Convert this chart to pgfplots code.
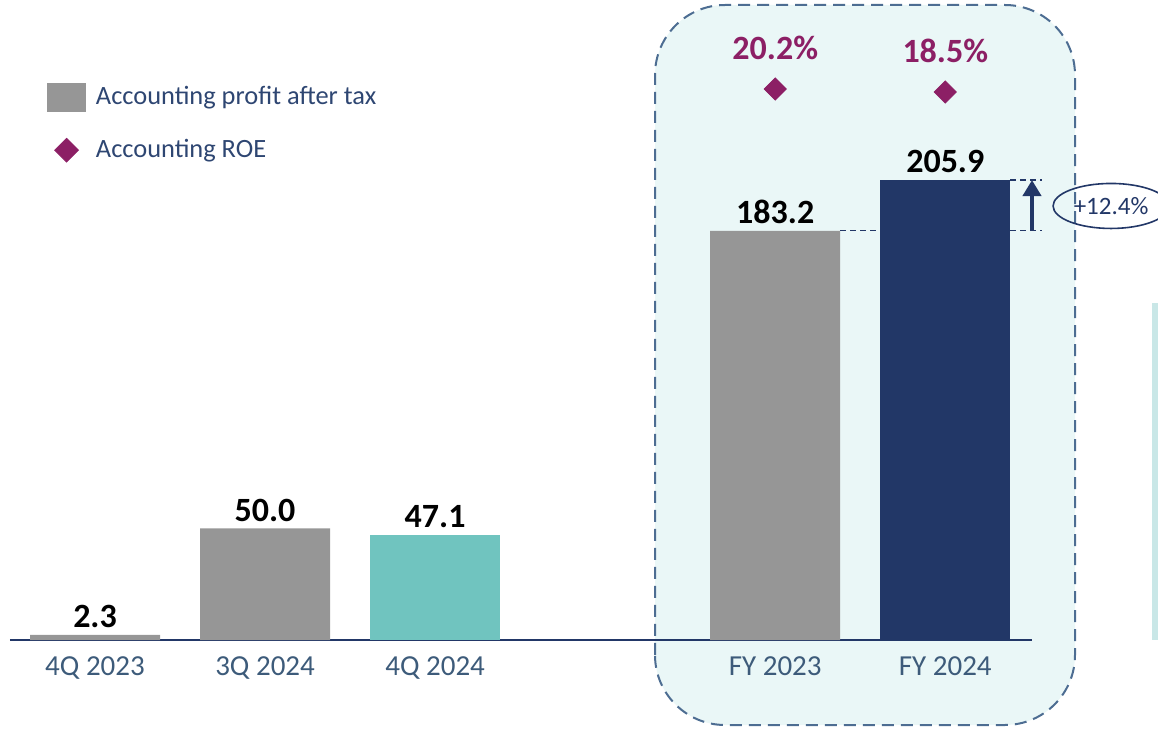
\documentclass[border=0pt]{standalone}
\usepackage{fontspec}
\setmainfont{Carlito}
\usepackage{pgfplots}
\pgfplotsset{compat=1.18}
\usetikzlibrary{arrows.meta,shapes.geometric}
\definecolor{barg}{HTML}{969696}
\definecolor{tealb}{HTML}{70C4BF}
\definecolor{navy}{HTML}{223767}
\definecolor{roe}{HTML}{8C1F65}
\definecolor{boxfill}{HTML}{EAF7F7}
\definecolor{boxline}{HTML}{4D6D92}
\definecolor{ticktxt}{HTML}{3D5B7A}
\definecolor{legtxt}{HTML}{2E4672}
\definecolor{strip}{HTML}{C9E7E7}

\pgfplotsset{
  base/.style={
    scale only axis, width=511pt, height=320pt,
    xmin=-0.5, xmax=5.51, clip=false,
    /pgf/number format/assume math mode=true,
  },
  vlabel/.style={
    nodes near coords={\pgfmathprintnumber[fixed,fixed zerofill,precision=1]{\pgfplotspointmeta}},
    every node near coord/.append style={font=\fontsize{17pt}{20pt}\selectfont\bfseries, text=black},
  },
}

\begin{document}
\begin{tikzpicture}
\useasboundingbox (-5pt,-44.5pt) rectangle (574pt,320pt);
% highlight box for the full-year figures
\draw[boxline, fill=boxfill, line width=1pt, dash pattern=on 6pt off 3.5pt, rounded corners=35pt]
  (322.5pt,-42.5pt) rectangle (532.5pt,317.5pt);
\fill[strip] (571pt,0pt) rectangle (574pt,168.5pt);

\begin{axis}[base,
  ymin=0, ymax=286.5,
  axis x line*=bottom, axis y line=none,
  x axis line style={navy, line width=1pt, -},
  major tick length=0pt,
  xtick={0,1,2,4,5},
  xticklabels={4Q 2023,3Q 2024,4Q 2024,FY 2023,FY 2024},
  xticklabel style={font=\fontsize{14.5pt}{17pt}\selectfont, text=ticktxt, yshift=-5pt},
  legend style={at={(rel axis cs:0.036,0.872)}, anchor=north west, draw=none, fill=none,
    inner sep=0pt, font=\fontsize{13.2pt}{15pt}\selectfont, text=legtxt, row sep=12pt,
    column sep=3pt, nodes={inner sep=2pt}},
  legend cell align=left,
]
\addlegendimage{barg, legend image code/.code={\fill[barg] (0pt,-7pt) rectangle (19pt,7pt);}}
\addlegendentry{Accounting profit after tax}
\addlegendimage{roe, legend image code/.code={\draw[roe] plot[only marks, mark=square*, mark size=4.2pt,
  mark options={rotate=45, fill=roe, draw=roe}] coordinates {(9.5pt,0pt)};}}
\addlegendentry{Accounting ROE}

\addplot[ybar, bar width=65pt, bar shift=0pt, fill=barg, draw=none, vlabel, forget plot]
  coordinates {(0,2.3) (1,50.0) (4,183.2)};
\addplot[ybar, bar width=65pt, bar shift=0pt, fill=tealb, draw=none, vlabel, forget plot]
  coordinates {(2,47.1)};
\addplot[ybar, bar width=65pt, bar shift=0pt, fill=navy, draw=none, vlabel, forget plot]
  coordinates {(5,205.9)};

% growth annotation FY2023 -> FY2024
\draw[navy, line width=0.6pt, dash pattern=on 3pt off 2pt] (axis cs:4.382,183.2) -- (axis cs:5.57,183.2);
\draw[navy, line width=0.6pt, dash pattern=on 3pt off 2pt] (axis cs:5.382,205.9) -- (axis cs:5.57,205.9);
\draw[navy, line width=2pt, -{Triangle[length=8pt,width=9pt]}] (axis cs:5.51,183.2) -- (axis cs:5.51,205.9);
\node[ellipse, draw=navy, line width=0.8pt, minimum width=58pt, minimum height=22.5pt, inner sep=0pt,
  text=navy, font=\fontsize{12.5pt}{15pt}\selectfont] at (axis cs:5.975,194.3) {+12.4\%};
\end{axis}

\begin{axis}[base,
  ymin=-290, ymax=70.3,
  axis lines=none, ticks=none,
]
\addplot[only marks, mark=square*, mark size=3.9pt, mark options={rotate=45, fill=roe, draw=roe},
  nodes near coords={\pgfmathprintnumber[fixed,fixed zerofill,precision=1]{\pgfplotspointmeta}\%},
  every node near coord/.append style={font=\fontsize{17pt}{20pt}\selectfont\bfseries, text=roe, yshift=11pt}]
  coordinates {(4,20.2) (5,18.5)};
\end{axis}
\end{tikzpicture}
\end{document}
